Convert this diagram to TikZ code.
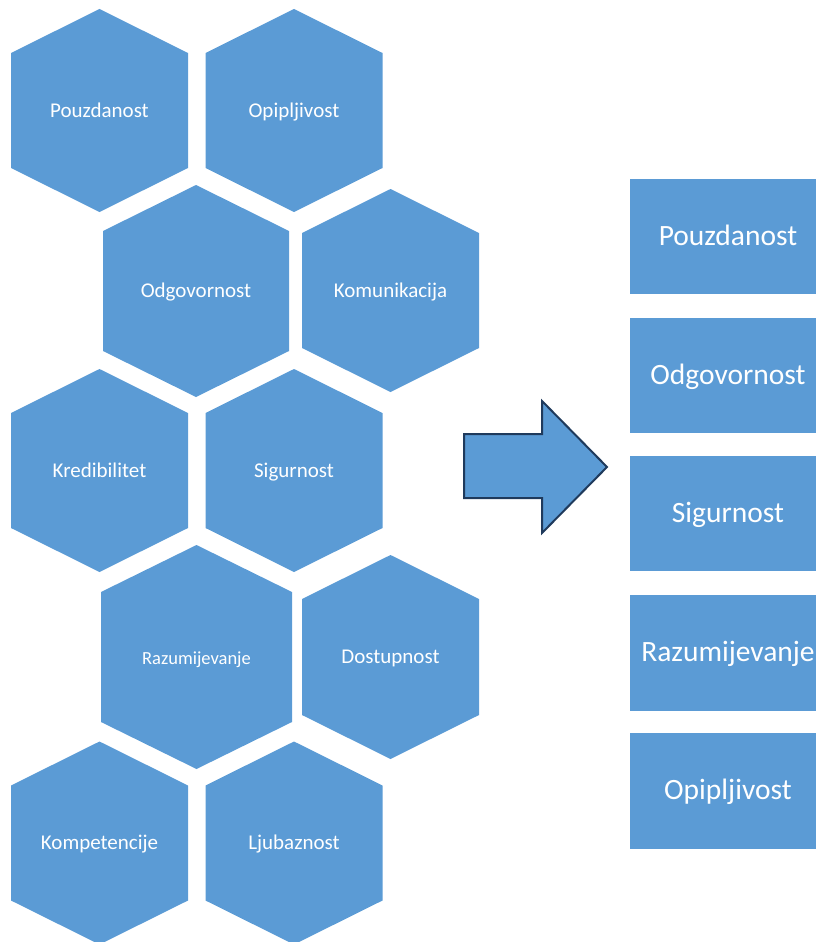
\documentclass[tikz,border=0pt]{standalone}
\usepackage{fontspec}
\setmainfont{Carlito}
\definecolor{cellblue}{HTML}{5B9BD5}
\definecolor{arrowedge}{HTML}{1F3A5C}
\tikzset{
  cellfill/.style={fill=cellblue},
  hexlabel/.style={text=white, font=\fontsize{21}{25}\selectfont, inner sep=0pt, anchor=base, yshift=-6.5pt},
  smalllabel/.style={hexlabel, font=\fontsize{18.5}{22}\selectfont, yshift=-0.5pt},
  boxlabel/.style={text=white, font=\fontsize{29.5}{34}\selectfont, inner sep=0pt, anchor=base, yshift=-8.5pt},
  blockarrow/.style={fill=cellblue, draw=arrowedge, line width=2pt, line join=miter},
}
% hexagon with a pointed top: name, centre x, centre y, half width, half height, shoulder drop
\newcommand\hexcell[6]{%
  \fill[cellfill] ({#2},{#3-#5}) -- ({#2+#4},{#3-#5+#6}) -- ({#2+#4},{#3+#5-#6})
    -- ({#2},{#3+#5}) -- ({#2-#4},{#3+#5-#6}) -- ({#2-#4},{#3-#5+#6}) -- cycle;
  \coordinate (#1) at ({#2},{#3});
}
% rectangle on the right: top and bottom edge
\newcommand\sidebox[2]{%
  \fill[cellfill] (630,#1) rectangle (826,#2);
}
\begin{document}
\begin{tikzpicture}[x=1pt,y=-1pt]
\useasboundingbox (0,0) rectangle (816,942);
\clip (0,0) rectangle (816,942);

% honeycomb
\hexcell{h1}{99.5}{110.5}{88.5}{101.5}{44}
\hexcell{h2}{294}{110.5}{88.5}{101.5}{44}
\hexcell{h3}{196}{291}{93}{106}{46}
\hexcell{h4}{390.5}{290.5}{88.5}{101.5}{44}
\hexcell{h5}{99.5}{470.5}{88.5}{101.5}{44}
\hexcell{h6}{294}{470.5}{88.5}{101.5}{44}
\hexcell{h7}{196.5}{657}{95.5}{112}{47}
\hexcell{h8}{390.5}{657}{88.5}{102}{44}
\hexcell{h9}{99.5}{843}{88.5}{101.5}{44}
\hexcell{h10}{294}{843}{88.5}{101.5}{44}

\node[hexlabel] (t1) at (h1) {Pouzdanost};
\node[hexlabel] (t2) at (h2) {Opipljivost};
\node[hexlabel] (t3) at (h3) {Odgovornost};
\node[hexlabel] (t4) at (h4) {Komunikacija};
\node[hexlabel] (t5) at (h5) {Kredibilitet};
\node[hexlabel] (t6) at (h6) {Sigurnost};
\node[smalllabel] (t7) at (h7) {Razumijevanje};
\node[hexlabel] (t8) at (h8) {Dostupnost};
\node[hexlabel] (t9) at (h9) {Kompetencije};
\node[hexlabel] (t10) at (h10) {Ljubaznost};

% block arrow
\draw[blockarrow] (464,434) -- (542,434) -- (542,401) -- (607,467)
  -- (542,533) -- (542,498) -- (464,498) -- cycle;

% selected dimensions
\sidebox{179}{294}
\sidebox{318}{433}
\sidebox{456}{571}
\sidebox{595}{711}
\sidebox{733}{849}
\node[boxlabel] (b1) at (728,236.5) {Pouzdanost};
\node[boxlabel] (b2) at (728,375.5) {Odgovornost};
\node[boxlabel] (b3) at (728,513.5) {Sigurnost};
\node[boxlabel] (b4) at (728,653) {Razumijevanje};
\node[boxlabel] (b5) at (728,791) {Opipljivost};
\end{tikzpicture}
\end{document}
